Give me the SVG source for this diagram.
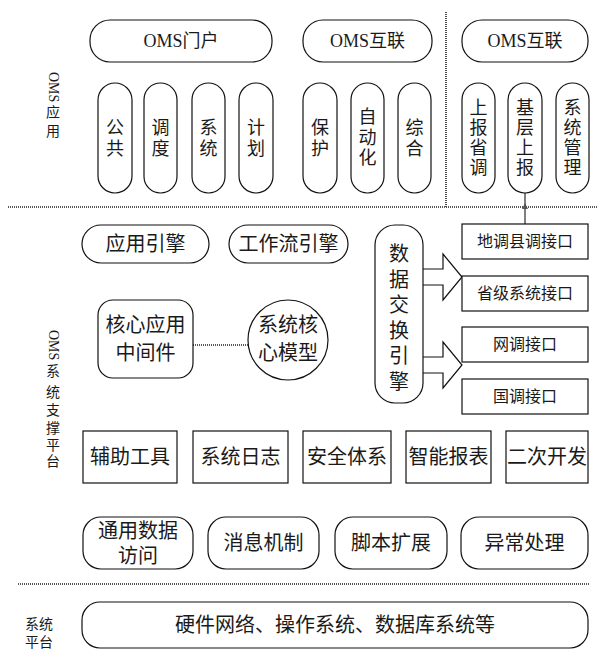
<svg xmlns="http://www.w3.org/2000/svg" width="597" height="649" viewBox="0 0 597 649">
<style>
.b{fill:#fff;stroke:#111;stroke-width:1.2}
.t{font-family:"Liberation Serif","Noto Sans CJK SC",serif;fill:#1a1a1a;text-anchor:middle;dominant-baseline:central}
.s18{font-size:18px}.s20{font-size:20px}.s16{font-size:16px}.s14{font-size:14px}
.dot{stroke:#222;stroke-width:1.6;stroke-dasharray:1 1;fill:none}
</style>
<rect width="597" height="649" fill="#fff"/>
<g id="labels">
<text class="t s14" transform="translate(53,72) rotate(90)" style="text-anchor:start">OMS</text>
<text class="t s14" x="53" y="112">应</text><text class="t s14" x="53" y="131">用</text>
<text class="t s14" transform="translate(53,330) rotate(90)" style="text-anchor:start">OMS</text>
<text class="t s14" x="53" y="371">系</text><text class="t s14" x="53" y="392">统</text><text class="t s14" x="53" y="410">支</text><text class="t s14" x="53" y="428">撑</text><text class="t s14" x="53" y="445">平</text><text class="t s14" x="53" y="461">台</text>
<text class="t s14" x="39" y="624">系统</text><text class="t s14" x="39" y="642">平台</text>
</g>
<g id="separators">
<line class="dot" x1="8" y1="207" x2="597" y2="207"/>
<line class="dot" x1="446" y1="12" x2="446" y2="207"/>
<line class="dot" x1="18" y1="584" x2="590" y2="584"/>
</g>
<g id="connectors">
<line x1="525" y1="193" x2="525" y2="224" stroke="#555" stroke-width="1.5"/>
<polygon points="525,203 522,209 528,209" fill="#555"/>
<line class="dot" x1="193" y1="345" x2="248" y2="345"/>
<path class="b" d="M423,269 H443 V254 L462,277 L443,300 V285 H423"/>
<path class="b" d="M423,357 H443 V342 L462,365 L443,388 V373 H423"/>
</g>
<g id="oms-portal"><rect class="b" x="90" y="20" width="182" height="42" rx="20"/><text class="t s18" x="181" y="41">OMS门户</text></g>
<g id="oms-link1"><rect class="b" x="303" y="20" width="129" height="42" rx="20"/><text class="t s18" x="367.5" y="41">OMS互联</text></g>
<g id="oms-link2"><rect class="b" x="462" y="20" width="126" height="42" rx="20"/><text class="t s18" x="525" y="41">OMS互联</text></g>
<g id="gonggong"><rect class="b" x="98" y="83" width="34" height="110" rx="17"/><text class="t s18" x="115" y="128">公</text><text class="t s18" x="115" y="148.5">共</text></g>
<g id="diaodu"><rect class="b" x="144" y="83" width="33" height="110" rx="16.5"/><text class="t s18" x="160.5" y="128">调</text><text class="t s18" x="160.5" y="148.5">度</text></g>
<g id="xitong"><rect class="b" x="192" y="83" width="33" height="110" rx="16.5"/><text class="t s18" x="208.5" y="128">系</text><text class="t s18" x="208.5" y="148.5">统</text></g>
<g id="jihua"><rect class="b" x="239" y="83" width="34" height="110" rx="17"/><text class="t s18" x="256" y="128">计</text><text class="t s18" x="256" y="148.5">划</text></g>
<g id="baohu"><rect class="b" x="303" y="83" width="34" height="110" rx="17"/><text class="t s18" x="320" y="128">保</text><text class="t s18" x="320" y="148.5">护</text></g>
<g id="zidonghua"><rect class="b" x="351" y="83" width="33" height="110" rx="16.5"/><text class="t s18" x="367.5" y="117">自</text><text class="t s18" x="367.5" y="137.5">动</text><text class="t s18" x="367.5" y="158">化</text></g>
<g id="zonghe"><rect class="b" x="398" y="83" width="33" height="110" rx="16.5"/><text class="t s18" x="414.5" y="128">综</text><text class="t s18" x="414.5" y="148.5">合</text></g>
<g id="shangbaoshengdiao"><rect class="b" x="462" y="83" width="33" height="110" rx="16.5"/><text class="t s18" x="478.5" y="108">上</text><text class="t s18" x="478.5" y="128">报</text><text class="t s18" x="478.5" y="148">省</text><text class="t s18" x="478.5" y="168">调</text></g>
<g id="jicengshangbao"><rect class="b" x="508" y="83" width="34" height="110" rx="17"/><text class="t s18" x="525" y="108">基</text><text class="t s18" x="525" y="128">层</text><text class="t s18" x="525" y="148">上</text><text class="t s18" x="525" y="168">报</text></g>
<g id="xitongguanli"><rect class="b" x="556" y="83" width="33" height="110" rx="16.5"/><text class="t s18" x="572.5" y="108">系</text><text class="t s18" x="572.5" y="128">统</text><text class="t s18" x="572.5" y="148">管</text><text class="t s18" x="572.5" y="168">理</text></g>
<g id="app-engine"><rect class="b" x="82" y="225" width="127" height="38" rx="19"/><text class="t s20" x="145.5" y="244">应用引擎</text></g>
<g id="workflow-engine"><rect class="b" x="229" y="225" width="119" height="38" rx="19"/><text class="t s20" x="288.5" y="244">工作流引擎</text></g>
<g id="core-middleware"><rect class="b" x="98" y="300" width="95" height="78" rx="15"/><text class="t s20" x="145.5" y="325">核心应用</text><text class="t s20" x="145.5" y="353">中间件</text></g>
<g id="core-model"><circle class="b" cx="288" cy="340" r="40"/><text class="t s20" x="288" y="325">系统核</text><text class="t s20" x="288" y="353">心模型</text></g>
<g id="data-exchange"><rect class="b" x="375" y="225" width="48" height="178" rx="20"/><text class="t s20" x="399" y="254">数</text><text class="t s20" x="399" y="280">据</text><text class="t s20" x="399" y="305">交</text><text class="t s20" x="399" y="331">换</text><text class="t s20" x="399" y="356">引</text><text class="t s20" x="399" y="382">擎</text></g>
<g id="if-didiao"><rect class="b" x="462" y="224" width="126" height="35"/><text class="t s16" x="525" y="241.5">地调县调接口</text></g>
<g id="if-shengji"><rect class="b" x="462" y="276" width="126" height="35"/><text class="t s16" x="525" y="293.5">省级系统接口</text></g>
<g id="if-wangdiao"><rect class="b" x="462" y="327" width="126" height="35"/><text class="t s16" x="525" y="344.5">网调接口</text></g>
<g id="if-guodiao"><rect class="b" x="462" y="379" width="126" height="35"/><text class="t s16" x="525" y="396.5">国调接口</text></g>
<g id="fuzhu"><rect class="b" x="83" y="431" width="94" height="52"/><text class="t s20" x="130" y="457">辅助工具</text></g>
<g id="rizhi"><rect class="b" x="193" y="431" width="95" height="52"/><text class="t s20" x="240.5" y="457">系统日志</text></g>
<g id="anquan"><rect class="b" x="303" y="431" width="88" height="52"/><text class="t s20" x="347" y="457">安全体系</text></g>
<g id="baobiao"><rect class="b" x="406" y="431" width="85" height="52"/><text class="t s20" x="448.5" y="457">智能报表</text></g>
<g id="erci"><rect class="b" x="506" y="431" width="82" height="52"/><text class="t s20" x="547" y="457">二次开发</text></g>
<g id="data-access"><rect class="b" x="83" y="517" width="110" height="52" rx="18"/><text class="t s20" x="138" y="531">通用数据</text><text class="t s20" x="138" y="556">访问</text></g>
<g id="message"><rect class="b" x="208" y="517" width="111" height="52" rx="18"/><text class="t s20" x="263.5" y="543">消息机制</text></g>
<g id="script"><rect class="b" x="335" y="517" width="112" height="52" rx="18"/><text class="t s20" x="391" y="543">脚本扩展</text></g>
<g id="exception"><rect class="b" x="461" y="517" width="127" height="52" rx="18"/><text class="t s20" x="524.5" y="543">异常处理</text></g>
<g id="hardware"><rect class="b" x="82" y="602" width="506" height="46" rx="18"/><text class="t s20" x="335" y="625">硬件网络、操作系统、数据库系统等</text></g>
</svg>
